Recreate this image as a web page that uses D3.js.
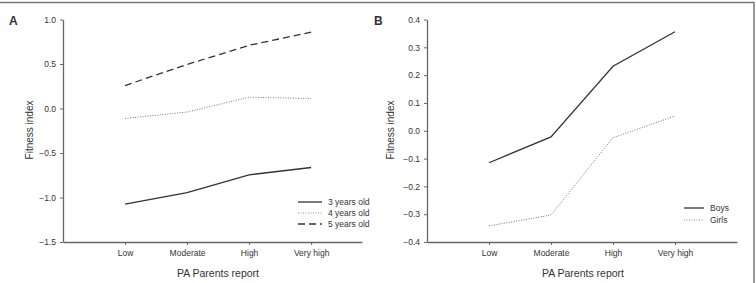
<!DOCTYPE html>
<html>
<head>
<meta charset="utf-8">
<script src="https://cdn.jsdelivr.net/npm/d3@7"></script>
<style>
  body { margin: 0; background: #fff; }
  text { font-family: "Liberation Sans", Arial, sans-serif; fill: #333; }
</style>
</head>
<body>
<svg id="chart" width="756" height="283"></svg>
<script>
const categories = ["Low", "Moderate", "High", "Very high"];

// panel A: by age
const ageSeries = ["3 years old", "4 years old", "5 years old"];
const age3 = [-1.075, -0.945, -0.745, -0.663];
const age4 = [-0.112, -0.04, 0.127, 0.112];
const age5 = [0.258, 0.495, 0.71, 0.857];
const ticksA = [-1.5, -1.0, -0.5, 0.0, 0.5, 1.0];

// panel B: by sex
const sexSeries = ["Boys", "Girls"];
const boys = [-0.115, -0.022, 0.232, 0.356];
const girls = [-0.342, -0.303, -0.025, 0.053];
const ticksB = [-0.4, -0.3, -0.2, -0.1, 0.0, 0.1, 0.2, 0.3, 0.4];

const svg = d3.select("#chart");

// frame (top and right edges only, image is cropped)
svg.append("line").attr("x1", 0).attr("x2", 754).attr("y1", 2.5).attr("y2", 2.5)
  .attr("stroke", "#777").attr("stroke-width", 1.5);
svg.append("line").attr("x1", 754).attr("x2", 754).attr("y1", 2).attr("y2", 283)
  .attr("stroke", "#777").attr("stroke-width", 1.5);

const dashes = { solid: null, dotted: "1,1.5", dashed: "7,4" };

function drawPanel(opt) {
  const g = svg.append("g");
  const x = d3.scaleLinear().domain([0, opt.xMax]).range([opt.x0, opt.x1]);
  const y = d3.scaleLinear().domain(opt.yDomain).range([242, 19.5]);

  const yAxis = g.append("g")
    .attr("transform", `translate(${opt.x0}, 0)`)
    .call(d3.axisLeft(y).tickValues(opt.ticks).tickSize(3).tickPadding(4)
      .tickFormat(d3.format(".1f")).tickSizeOuter(0));
  const xAxis = g.append("g")
    .attr("transform", "translate(0, 242)")
    .call(d3.axisBottom(x).tickValues([1, 2, 3, 4]).tickSize(3).tickPadding(5)
      .tickFormat((d) => categories[d - 1]).tickSizeOuter(0));
  [yAxis, xAxis].forEach((a) => {
    a.select(".domain").attr("stroke", "#666").attr("stroke-width", 1.3);
    a.selectAll(".tick line").attr("stroke", "#666");
    a.selectAll(".tick text").attr("font-size", 8.5).attr("fill", "#333")
      .style("font-family", "Liberation Sans, Arial, sans-serif");
  });
  yAxis.selectAll(".tick text").text((d) => d3.format(".1f")(d).replace("-0.0", "0.0"));

  const line = d3.line().x((d, i) => x(i + 1)).y((d) => y(d));
  opt.series.forEach((s) => {
    g.append("path")
      .datum(s.values)
      .attr("d", line)
      .attr("fill", "none")
      .attr("stroke", s.style === "dotted" ? "#777" : "#333")
      .attr("stroke-width", s.style === "dotted" ? 1 : 1.3)
      .attr("stroke-dasharray", dashes[s.style]);
  });

  // legend
  opt.series.forEach((s, i) => {
    const ly = opt.legend.y + i * opt.legend.dy;
    g.append("line")
      .attr("x1", opt.legend.x).attr("x2", opt.legend.x + opt.legend.w)
      .attr("y1", ly).attr("y2", ly)
      .attr("stroke", s.style === "dotted" ? "#888" : "#333")
      .attr("stroke-width", s.style === "dotted" ? 1 : 1.3)
      .attr("stroke-dasharray", dashes[s.style]);
    g.append("text")
      .attr("x", opt.legend.x + opt.legend.w + 6).attr("y", ly + 3)
      .attr("font-size", 8.5)
      .text(s.name);
  });

  g.append("text")
    .attr("x", opt.letterX).attr("y", 25)
    .attr("font-size", 12).attr("font-weight", "bold").attr("fill", "#111")
    .text(opt.letter);

  g.append("text")
    .attr("text-anchor", "middle")
    .attr("transform", "rotate(-90)")
    .attr("x", -130).attr("y", opt.yLabelX)
    .attr("font-size", 10)
    .text("Fitness index");

  g.append("text")
    .attr("text-anchor", "middle")
    .attr("x", opt.xLabelX).attr("y", 277)
    .attr("font-size", 10.5)
    .text("PA Parents report");
}

drawPanel({
  x0: 63, x1: 362, xMax: 4.82,
  yDomain: [-1.5, 1.0], ticks: ticksA,
  series: [
    { name: ageSeries[0], values: age3, style: "solid" },
    { name: ageSeries[1], values: age4, style: "dotted" },
    { name: ageSeries[2], values: age5, style: "dashed" }
  ],
  legend: { x: 298, w: 24, y: 202, dy: 11 },
  letter: "A", letterX: 9,
  yLabelX: 33, xLabelX: 218
});

drawPanel({
  x0: 427, x1: 737, xMax: 5.0,
  yDomain: [-0.4, 0.4], ticks: ticksB,
  series: [
    { name: sexSeries[0], values: boys, style: "solid" },
    { name: sexSeries[1], values: girls, style: "dotted" }
  ],
  legend: { x: 684, w: 20, y: 208, dy: 12 },
  letter: "B", letterX: 374,
  yLabelX: 394, xLabelX: 583
});
</script>
</body>
</html>
